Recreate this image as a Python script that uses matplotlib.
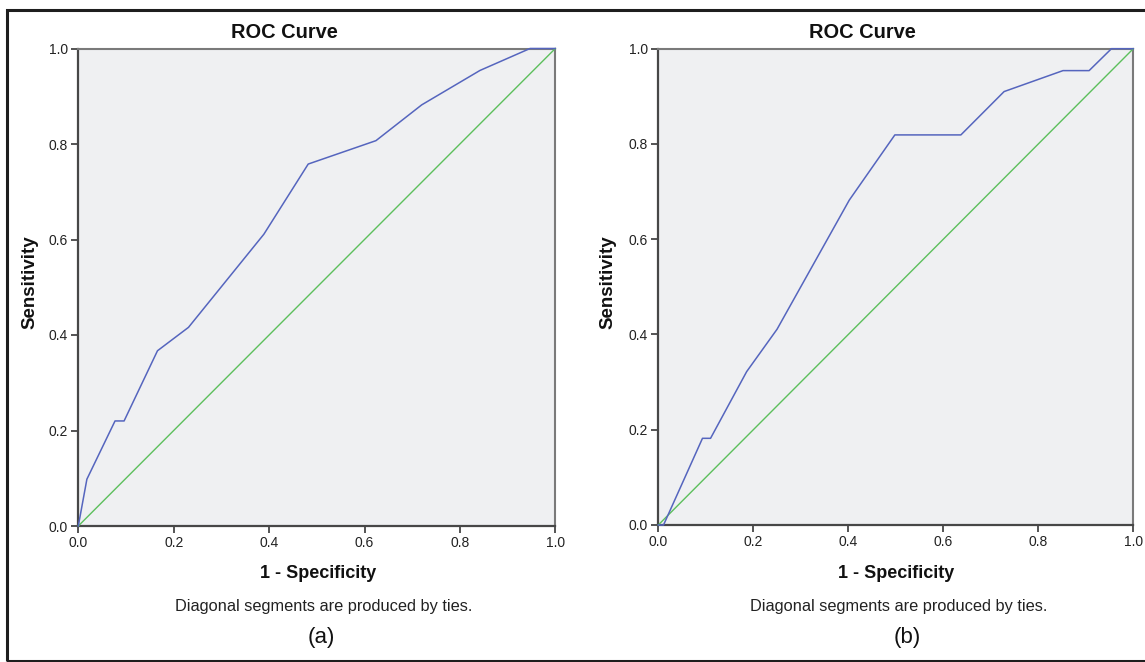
import matplotlib
matplotlib.use('Agg')
import matplotlib.pyplot as plt
from matplotlib.patches import Rectangle

# ---- data ----
fpr_a = [0.0, 0.018, 0.077, 0.096, 0.166, 0.231, 0.389, 0.482, 0.624, 0.720, 0.842, 0.947, 1.0]
tpr_a = [0.0, 0.098, 0.220, 0.220, 0.367, 0.416, 0.611, 0.758, 0.807, 0.882, 0.954, 1.0, 1.0]

fpr_b = [0.0, 0.011, 0.093, 0.110, 0.186, 0.250, 0.402, 0.498, 0.637, 0.728, 0.852, 0.907, 0.954, 1.0]
tpr_b = [0.0, 0.0, 0.182, 0.182, 0.322, 0.411, 0.682, 0.819, 0.819, 0.910, 0.954, 0.954, 1.0, 1.0]

diag_x = [0.0, 1.0]
diag_y = [0.0, 1.0]

tick_vals = [0.0, 0.2, 0.4, 0.6, 0.8, 1.0]
tick_labels = ['0.0', '0.2', '0.4', '0.6', '0.8', '1.0']

title_text = 'ROC Curve'
xlabel_text = '1 - Specificity'
ylabel_text = 'Sensitivity'
note_text = 'Diagonal segments are produced by ties.'
panel_tags = ['(a)', '(b)']

# ---- figure ----
plt.rcParams['font.family'] = ['Liberation Sans', 'DejaVu Sans']
W, H = 1145, 662
fig = plt.figure(figsize=(W / 100, H / 100), dpi=100)


def fx(px):
    return px / W


def fy(py):
    return 1 - py / H


BLUE = '#5565be'
GREEN = '#5cbf5c'
FACE = '#eff0f2'
DARK = '#474747'

panels = [
    dict(fpr=fpr_a, tpr=tpr_a, box=(78.3, 48.5, 555.3, 526.0),
         title_x=284, xlabel_x=318, note_x=324, tag_x=321, ylab_x=30, tag=panel_tags[0]),
    dict(fpr=fpr_b, tpr=tpr_b, box=(658.3, 48.7, 1133.3, 525.0),
         title_x=862, xlabel_x=896, note_x=899, tag_x=907, ylab_x=608, tag=panel_tags[1]),
]

for p in panels:
    l, t, r, b = p['box']
    ax = fig.add_axes([fx(l), fy(b), (r - l) / W, (b - t) / H])
    ax.set_facecolor(FACE)
    ax.plot(diag_x, diag_y, color=GREEN, lw=1.0, zorder=3, clip_on=False)
    ax.plot(p['fpr'], p['tpr'], color=BLUE, lw=1.1, zorder=4, clip_on=False)
    ax.set_xlim(0, 1)
    ax.set_ylim(0, 1)
    ax.set_xticks(tick_vals)
    ax.set_xticklabels(tick_labels)
    ax.set_yticks(tick_vals)
    ax.set_yticklabels(tick_labels)
    ax.tick_params(direction='out', length=5, width=1.3, color=DARK,
                   labelsize=10, labelcolor='#222222', pad=2.5)
    for side in ['left', 'bottom']:
        ax.spines[side].set_color(DARK)
        ax.spines[side].set_linewidth(1.6)
    for side in ['top', 'right']:
        ax.spines[side].set_color('#7a7a7a')
        ax.spines[side].set_linewidth(1.5)

    fig.text(fx(p['title_x']), fy(32), title_text, ha='center', va='center',
             fontsize=14.4, fontweight='bold', color='#111111')
    fig.text(fx(p['xlabel_x']), fy(573), xlabel_text, ha='center', va='center',
             fontsize=13, fontweight='bold', color='#111111')
    fig.text(fx(p['ylab_x']), fy(282), ylabel_text, ha='center', va='center',
             rotation=90, fontsize=13.5, fontweight='bold', color='#111111')
    fig.text(fx(p['note_x']), fy(607), note_text, ha='center', va='center',
             fontsize=11.8, color='#222222')
    fig.text(fx(p['tag_x']), fy(638), p['tag'], ha='center', va='center',
             fontsize=16, color='#111111')

frame = Rectangle((fx(7), fy(661)), 1.2, (661 - 10) / H, transform=fig.transFigure,
                  fill=False, lw=2.2, ec='#1e1e1e', clip_on=False)
fig.add_artist(frame)

fig.savefig('out.png', dpi=100)
